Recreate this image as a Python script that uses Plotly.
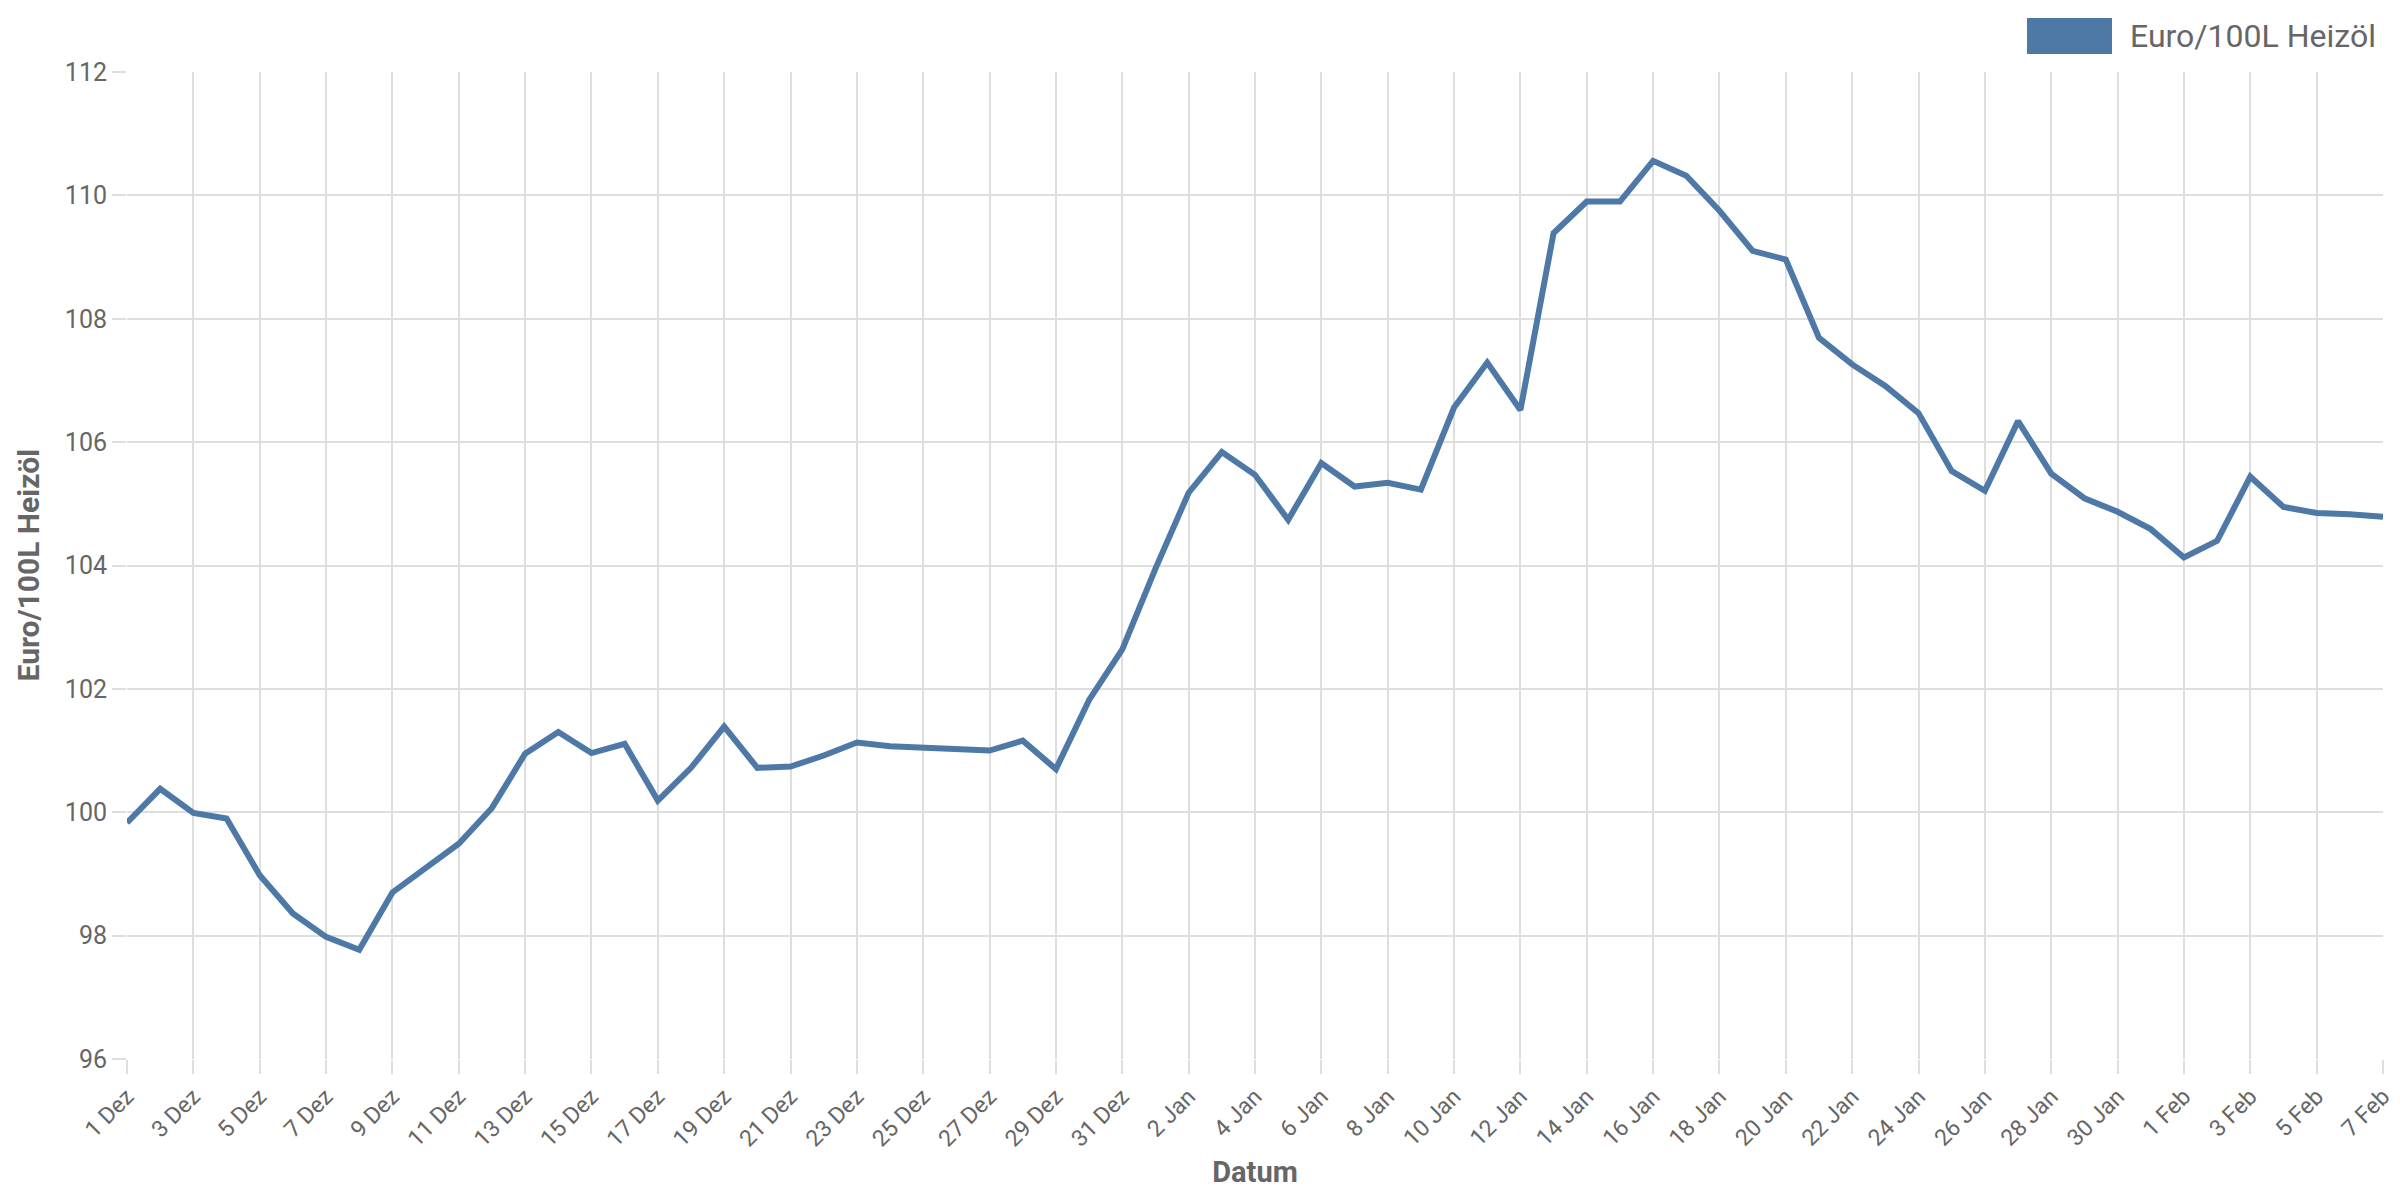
import plotly.graph_objects as go

dates = (
    [f"{d} Dez" for d in range(1, 32)]
    + [f"{d} Jan" for d in range(1, 32)]
    + [f"{d} Feb" for d in range(1, 8)]
)

prices = [
    99.83, 100.38, 99.99, 99.90, 98.98, 98.36, 97.98, 97.77, 98.70, 99.09,
    99.49, 100.07, 100.95, 101.30, 100.96, 101.11, 100.19, 100.72, 101.39, 100.72,
    100.74, 100.92, 101.13, 101.07, 101.05, 101.04, 101.00, 101.16, 100.70, 101.82,
    102.64,
    103.95, 105.18, 105.84, 105.47, 104.74, 105.66, 105.28, 105.34, 105.23, 106.56,
    107.29, 106.52, 109.39, 109.90, 109.90, 110.56, 110.32, 109.75, 109.10, 108.96,
    107.69, 107.26, 106.91, 106.47, 105.53, 105.21, 106.34, 105.49, 105.09, 104.87,
    104.59,
    104.13, 104.40, 105.44, 104.95, 104.85, 104.83, 104.79,
]

series_name = "Euro/100L Heizöl"
line_color = "#4e79a7"
grid_color = "#dedede"
text_color = "#666666"
font_family = "Roboto, Open Sans, sans-serif"

idx = list(range(len(dates)))
tick_idx = idx[::2]
tick_txt = [dates[i] for i in tick_idx]

W, H = 2384, 1184
L, R, T, B = 119, 9, 64, 133
PW, PH = W - L - R, H - T - B

fig = go.Figure()
fig.add_trace(go.Scatter(
    x=idx, y=prices, mode="lines", name=series_name,
    line=dict(color=line_color, width=6), showlegend=False,
))

fig.update_layout(
    width=W, height=H,
    margin=dict(l=L, r=R, t=T, b=B),
    paper_bgcolor="white", plot_bgcolor="white",
    font=dict(family=font_family, color=text_color, size=22),
    xaxis=dict(
        range=[0, len(dates) - 1],
        tickmode="array", tickvals=tick_idx, ticktext=tick_txt,
        tickangle=-45, showgrid=True, gridcolor=grid_color, gridwidth=1.5,
        ticks="outside", ticklen=14, tickcolor=grid_color, tickwidth=1.5,
        zeroline=False, showline=False, ticklabeloverflow="allow",
        automargin=False,
        title=dict(text="<b>Datum</b>", font=dict(size=29, color=text_color), standoff=10),
        tickfont=dict(size=23, color=text_color),
    ),
    yaxis=dict(
        range=[96, 112], dtick=2, tick0=96,
        showgrid=True, gridcolor=grid_color, gridwidth=1.5,
        ticks="outside", ticklen=14, tickcolor=grid_color, tickwidth=1.5,
        zeroline=False, showline=False, automargin=False,
        tickfont=dict(size=25, color=text_color),
    ),
    shapes=[dict(
        type="rect", xref="paper", yref="paper",
        x0=(2019 - L) / PW, x1=(2104 - L) / PW,
        y0=1 + (T - 46) / PH, y1=1 + (T - 10) / PH,
        fillcolor=line_color, line=dict(width=0),
    )],
    annotations=[
        dict(
            text=series_name, xref="paper", yref="paper",
            x=(2120 - L) / PW, y=1 + (T - 28) / PH,
            xanchor="left", yanchor="middle", showarrow=False,
            font=dict(size=32, color=text_color),
        ),
        dict(
            text="<b>" + series_name + "</b>", xref="paper", yref="paper",
            x=(20 - L) / PW, y=0.5, textangle=-90,
            xanchor="center", yanchor="middle", showarrow=False,
            font=dict(size=30, color=text_color),
        ),
    ],
)

fig.write_html("out.html")
